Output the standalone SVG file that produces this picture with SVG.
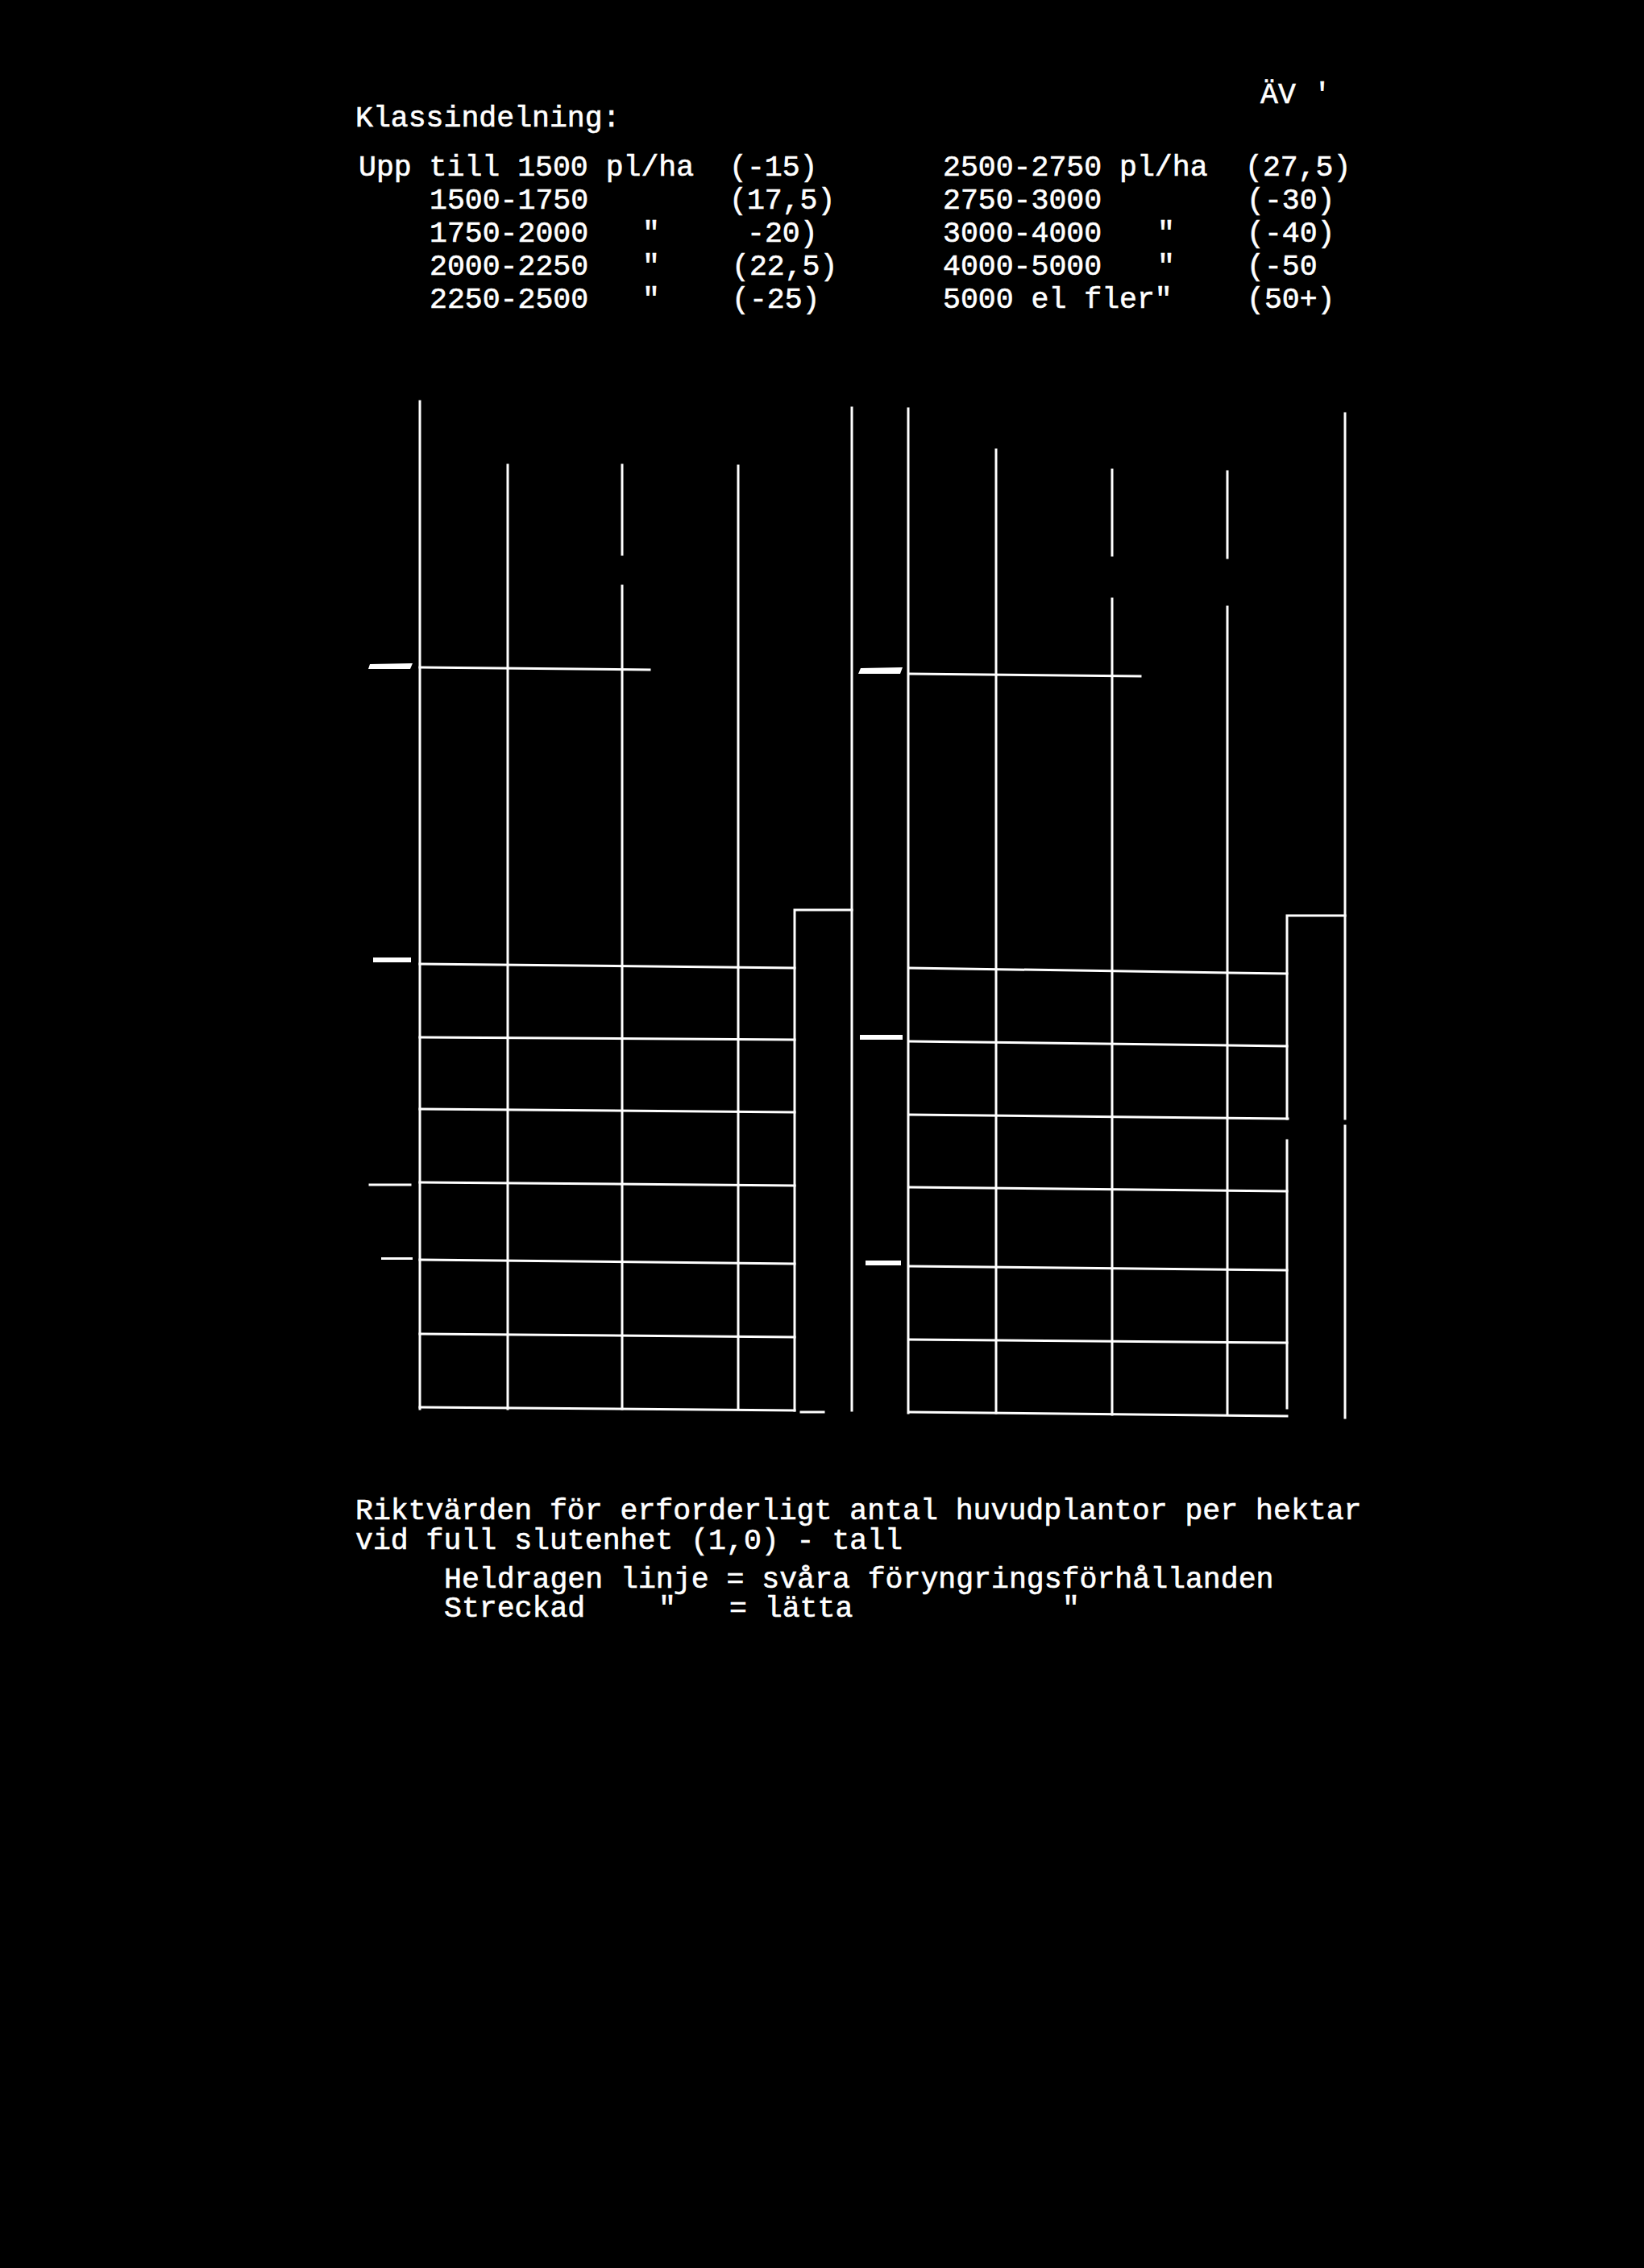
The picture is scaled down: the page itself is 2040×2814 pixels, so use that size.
<svg xmlns="http://www.w3.org/2000/svg" width="2040" height="2814" viewBox="0 0 2040 2814">
<style>
.t{font-family:"Liberation Mono","DejaVu Sans Mono",monospace;font-size:36.5px;fill:#fff;stroke:#fff;stroke-width:0.6}
.ln{stroke:#fff;stroke-width:3;fill:none;stroke-linecap:square}
.blob{fill:#fff}
</style>
<rect x="0" y="0" width="2040" height="2814" fill="#000"/>

<g id="header">
<text class="t" x="441" y="157">Klassindelning:</text>
<text class="t" x="1564" y="128">ÄV '</text>
</g>

<g id="classes-left">
<text class="t" x="445" y="218">Upp till 1500 pl/ha</text>
<text class="t" x="905" y="218">(-15)</text>
<text class="t" x="533" y="259">1500-1750</text>
<text class="t" x="905" y="259">(17,5)</text>
<text class="t" x="533" y="300">1750-2000</text>
<text class="t" x="797" y="300">"</text>
<text class="t" x="927" y="300">-20)</text>
<text class="t" x="533" y="341">2000-2250</text>
<text class="t" x="797" y="341">"</text>
<text class="t" x="908" y="341">(22,5)</text>
<text class="t" x="533" y="382">2250-2500</text>
<text class="t" x="797" y="382">"</text>
<text class="t" x="908" y="382">(-25)</text>
</g>

<g id="classes-right">
<text class="t" x="1170" y="218">2500-2750 pl/ha</text>
<text class="t" x="1545" y="218">(27,5)</text>
<text class="t" x="1170" y="259">2750-3000</text>
<text class="t" x="1547" y="259">(-30)</text>
<text class="t" x="1170" y="300">3000-4000</text>
<text class="t" x="1436" y="300">"</text>
<text class="t" x="1547" y="300">(-40)</text>
<text class="t" x="1170" y="341">4000-5000</text>
<text class="t" x="1436" y="341">"</text>
<text class="t" x="1547" y="341">(-50</text>
<text class="t" x="1170" y="382">5000 el fler"</text>
<text class="t" x="1547" y="382">(50+)</text>
</g>

<g id="chart-left">
<path class="ln" d="M521,498 V1748 M630,577 V1748 M772,577 V688 M772,727 V1748 M916,578 V1748 M1057,506 V1750"/>
<path class="ln" d="M986,1750 V1129 H1057"/>
<path class="ln" d="M521,828 L806,831"/>
<path class="ln" d="M521,1196 L986,1201 M521,1287 L986,1290 M521,1376 L986,1380 M521,1467 L986,1471 M521,1563 L986,1568 M521,1655 L986,1659 M521,1746 L986,1750"/>
<path class="ln" d="M994,1752 H1022" stroke-width="2.5"/>
<path class="blob" d="M459,824 L512,823 L509,830 L457,830 Z"/>
<rect class="blob" x="463" y="1188" width="47" height="6"/>
<path class="ln" d="M459,1470 H509" stroke-width="2.5" stroke-dasharray="11,3" stroke-linecap="butt"/>
<rect class="blob" x="473" y="1560" width="39" height="3"/>
</g>

<g id="chart-right">
<path class="ln" d="M1127,507 V1753 M1236,558 V1753 M1380,583 V689 M1380,743 V1755 M1523,585 V692 M1523,753 V1755 M1669,513 V1388 M1669,1397 V1759"/>
<path class="ln" d="M1597,1388 V1136 H1669 M1597,1415 V1747"/>
<path class="ln" d="M1128,836 L1415,839"/>
<path class="ln" d="M1128,1201 L1597,1208 M1128,1292 L1597,1298 M1128,1383 L1598,1388 M1128,1473 L1597,1478 M1128,1571 L1597,1576 M1128,1662 L1597,1666 M1128,1752 L1597,1757"/>
<path class="blob" d="M1068,829 L1120,828 L1117,836 L1065,836 Z"/>
<rect class="blob" x="1067" y="1284" width="53" height="6"/>
<rect class="blob" x="1074" y="1564" width="44" height="6"/>
</g>

<g id="caption">
<text class="t" x="441" y="1885">Riktvärden för erforderligt antal huvudplantor per hektar</text>
<text class="t" x="441" y="1922">vid full slutenhet (1,0) - tall</text>
<text class="t" x="551" y="1970">Heldragen linje = svåra föryngringsförhållanden</text>
<text class="t" x="551" y="2006">Streckad</text>
<text class="t" x="817" y="2006">"</text>
<text class="t" x="905" y="2006">= lätta</text>
<text class="t" x="1318" y="2006">"</text>
</g>
</svg>
